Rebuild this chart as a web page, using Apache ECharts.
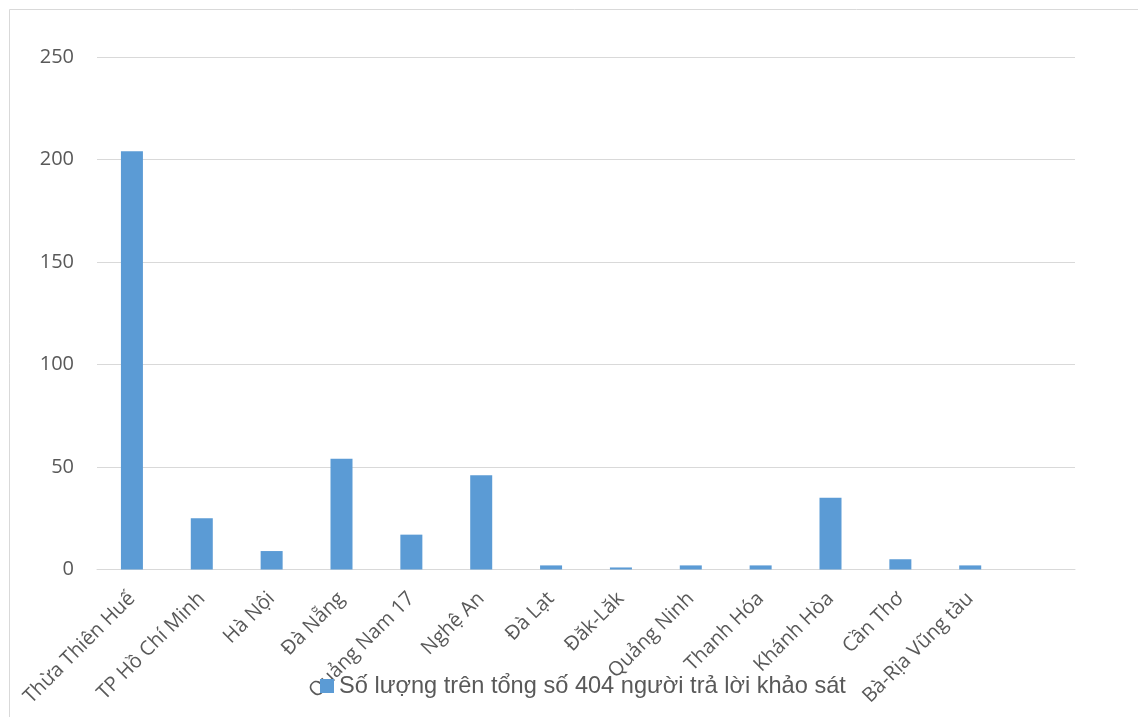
<!DOCTYPE html>
<html>
<head>
<meta charset="utf-8">
<script src="https://cdn.jsdelivr.net/npm/echarts@6/dist/echarts.min.js"></script>
<style>html,body{margin:0;padding:0;background:#fff;}#c{width:1138px;height:717px;}</style>
</head>
<body>
<div id="c"></div>
<script>
const categories = ['Thừa Thiên Huế','TP Hồ Chí Minh','Hà Nội','Đà Nẵng','Quảng Nam 17','Nghệ An','Đà Lạt','Đăk-Lăk','Quảng Ninh','Thanh Hóa','Khánh Hòa','Cần Thơ','Bà-Rịa Vũng tàu',''];
const values = [204,25,9,54,17,46,2,1,2,2,35,5,2,null];
const seriesName = 'Số lượng trên tổng số 404 người trả lời khảo sát';
const yTicks = {min:0,max:250,interval:50};

const chart = echarts.init(document.getElementById('c'));
chart.setOption({
  animation:false,
  backgroundColor:'#fff',
  graphic:[{type:'rect',shape:{x:9.5,y:9.5,width:1300,height:900},style:{fill:'none',stroke:'#d9d9d9',lineWidth:1},silent:true,z:-1}],
  grid:{left:97,right:63,top:57,bottom:147.5,containLabel:false},
  legend:{
    data:[seriesName],
    left:315, top:669,
    itemWidth:14,itemHeight:14,itemGap:4,
    icon:'rect',
    textStyle:{fontFamily:'Liberation Sans',fontSize:23.6,color:'#595959'}
  },
  xAxis:{
    type:'category',
    data:categories,
    axisLine:{lineStyle:{color:'#d9d9d9',width:1}},
    axisTick:{show:false},
    axisLabel:{rotate:45,interval:0,margin:26,fontFamily:'Open Sans',fontSize:20,color:'#595959'}
  },
  yAxis:{
    type:'value',
    min:yTicks.min,max:yTicks.max,interval:yTicks.interval,
    axisLine:{show:false},axisTick:{show:false},
    splitLine:{lineStyle:{color:'#d9d9d9',width:1}},
    axisLabel:{margin:23,fontFamily:'Open Sans',fontSize:20,color:'#595959'}
  },
  series:[{
    name:seriesName,
    type:'bar',
    data:values,
    barWidth:22,
    itemStyle:{color:'#5b9bd5'}
  }]
});
</script>
</body>
</html>
